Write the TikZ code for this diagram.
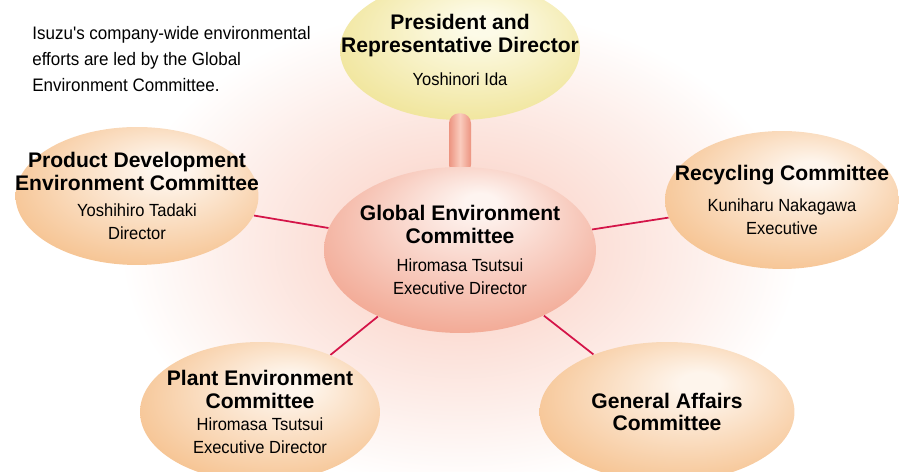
\documentclass[tikz,border=0pt]{standalone}
\usepackage{fontspec}
\setmainfont{Liberation Sans}
\newfontfamily\namefont[FakeStretch=0.94]{Liberation Sans}
\usepackage{tikz}
\usetikzlibrary{calc,positioning,shapes,shadings}
\definecolor{crimson}{RGB}{212,20,72}
\definecolor{yelE}{RGB}{239,227,148}
\definecolor{yelC}{RGB}{253,251,232}
\definecolor{pinkE}{RGB}{241,162,140}
\definecolor{pinkC}{RGB}{254,244,240}
\definecolor{orE}{RGB}{245,190,136}
\definecolor{orC}{RGB}{254,245,236}
\definecolor{glowpink}{RGB}{250,208,196}
\definecolor{pillE}{RGB}{236,148,128}
\definecolor{pillC}{RGB}{250,204,190}
\pgfdeclareradialshading{yelshade}{\pgfpoint{5bp}{10bp}}{color(0bp)=(yelC); color(4bp)=(yelC); color(33bp)=(yelE); color(50bp)=(yelE)}
\pgfdeclareradialshading{pinkshade}{\pgfpoint{4bp}{15bp}}{color(0bp)=(pinkC); color(3bp)=(pinkC); color(34bp)=(pinkE); color(50bp)=(pinkE)}
\pgfdeclareradialshading{orshade}{\pgfpoint{7bp}{11bp}}{color(0bp)=(orC); color(4bp)=(orC); color(34bp)=(orE); color(50bp)=(orE)}
\pgfdeclareradialshading{glowshade}{\pgfpoint{0bp}{0bp}}{color(0bp)=(glowpink); color(8bp)=(glowpink!75!white); color(25bp)=(white); color(50bp)=(white)}
\pgfdeclarelayer{back}
\pgfdeclarelayer{links}
\pgfsetlayers{back,links,main}
\newcommand{\who}[1]{{\mdseries\namefont\fontsize{10}{12}\selectfont #1}}
\tikzset{
  oval/.style={ellipse, inner sep=0pt},
  yelbox/.style={oval, shading=yelshade},
  pinkbox/.style={oval, shading=pinkshade},
  orbox/.style={oval, shading=orshade},
  ttl/.style={align=center, inner sep=0pt, font=\fontsize{12}{13}\selectfont\bfseries},
  desc/.style={align=left, inner sep=0pt, font=\namefont\fontsize{10.3}{14.7}\selectfont},
  link/.style={draw=crimson, line width=1pt},
}
\begin{document}
\begin{tikzpicture}[x=0.02cm,y=0.02cm]
  \useasboundingbox (0,0) rectangle (899,472);
  \clip (0,0) rectangle (899,472);

  % glow and top office
  \begin{pgfonlayer}{back}
    \shade[shading=glowshade] (460,225) ellipse (340 and 240);
    \node[yelbox, minimum width=4.8cm, minimum height=2.8cm] (pres) at (460,422) {};
  \end{pgfonlayer}

  % committees
  \node[pinkbox, minimum width=5.44cm, minimum height=3.32cm] (glob) at (460,222) {};
  \node[orbox, minimum width=4.86cm, minimum height=2.76cm] (prod) at (137,276) {};
  \node[orbox, minimum width=4.68cm, minimum height=2.76cm] (recy) at (782,272) {};
  \node[orbox, minimum width=4.8cm, minimum height=2.8cm] (plant) at (260,60) {};
  \node[orbox, minimum width=5.1cm, minimum height=2.8cm] (gen) at (667,60) {};

  \begin{pgfonlayer}{links}
    \shade[left color=pillE, right color=pillE, middle color=pillC, rounded corners=0.2cm]
      ($(pres.south)+(-11,7)$) rectangle ($(glob.north)+(11,-8)$);
    \path[link] (glob) -- (prod);
    \path[link] (glob) -- (recy);
    \path[link] (glob) -- (plant);
    \path[link] (glob) -- (gen);
  \end{pgfonlayer}

  % texts
  \node[desc, anchor=north west] (intro) at (32,446) {Isuzu's company-wide environmental\\efforts are led by the Global\\Environment Committee.};
  \node[ttl] (prestxt) at (pres) {President and\\Representative Director\\[6pt]\who{Yoshinori Ida}};
  \node[ttl] (globtxt) at (glob) {Global Environment\\Committee\\[3pt]\who{Hiromasa Tsutsui}\\\who{Executive Director}};
  \node[ttl] (prodtxt) at (prod) {Product Development\\Environment Committee\\[2pt]\who{Yoshihiro Tadaki}\\\who{Director}};
  \node[ttl] (recytxt) at (recy) {Recycling Committee\\[5pt]\who{Kuniharu Nakagawa}\\\who{Executive}};
  \node[ttl] (planttxt) at (plant) {Plant Environment\\Committee\\\who{Hiromasa Tsutsui}\\\who{Executive Director}};
  \node[ttl] (gentxt) at (gen) {General Affairs\\Committee};
\end{tikzpicture}
\end{document}
